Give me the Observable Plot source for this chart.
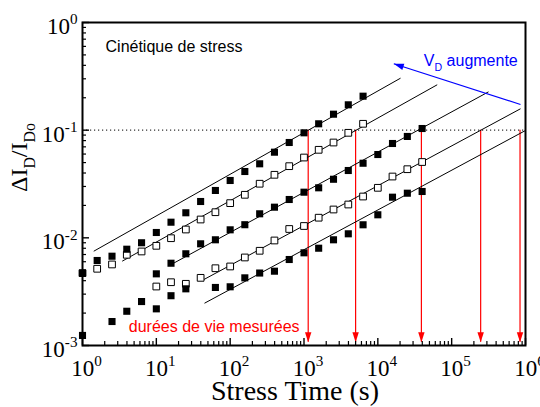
<!DOCTYPE html>
<html><head><meta charset="utf-8">
<script src="https://cdn.jsdelivr.net/npm/d3@7"></script>
<script src="https://cdn.jsdelivr.net/npm/@observablehq/plot@0.6"></script>
<style>body{margin:0;background:#fff} svg{display:block}</style>
</head><body><div id="chart"></div>
<script>
// ---- data (log-log) ----
const timeAB = [1, 1.58, 2.51, 3.98, 6.31, 10, 15.8, 25.1, 39.8, 63.1, 100, 158, 251, 398, 631, 1000, 1580, 2510, 3980, 6310];
const seriesA = [0.00470, 0.00616, 0.00675, 0.00784, 0.00900, 0.01121, 0.01397, 0.01709, 0.02175, 0.02753, 0.03409, 0.04131, 0.04872, 0.06244, 0.07683, 0.0945, 0.1146, 0.1407, 0.1720, 0.2068];
const seriesB = [0.00470, 0.00516, 0.00566, 0.00696, 0.00747, 0.00843, 0.00992, 0.01195, 0.0148, 0.0173, 0.0210, 0.0251, 0.0318, 0.0385, 0.0463, 0.0557, 0.0657, 0.0768, 0.0945, 0.1146];
const timeCD = [10, 15.8, 25.1, 39.8, 63.1, 100, 158, 251, 398, 631, 1000, 1580, 2510, 3980, 6310, 10000, 15800, 25100, 39800];
const seriesC = [0.00463, 0.00581, 0.00711, 0.00880, 0.00959, 0.01187, 0.01324, 0.01672, 0.01926, 0.0227, 0.02654, 0.02915, 0.0350, 0.0422, 0.0493, 0.0594, 0.0752, 0.0874, 0.1036];
const seriesD = [0.00353, 0.00387, 0.00374, 0.00425, 0.00522, 0.00542, 0.00657, 0.00758, 0.00945, 0.01208, 0.01288, 0.01538, 0.01833, 0.0204, 0.0242, 0.02915, 0.0371, 0.0434, 0.0506];
const timeE = [1, 2.51, 3.98, 6.31, 10, 15.8, 25.1, 63.1, 100, 158, 251, 398, 631, 1000, 1580, 2510, 3980, 6310, 10000, 15800, 25100, 39800];
const seriesE = [0.00124, 0.00167, 0.00208, 0.00256, 0.00219, 0.00290, 0.00336, 0.00346, 0.00351, 0.00425, 0.00471, 0.00490, 0.00629, 0.00726, 0.00801, 0.00959, 0.0109, 0.01322, 0.01637, 0.02385, 0.02597, 0.02694];

// power-law fits (start / end of each line)
const fitStartT = [1.42, 3.45, 17.35, 41.8, 44.9];
const fitStartV = [0.00751, 0.00607, 0.00584, 0.00402, 0.00247];
const fitEndT = [20300, 63700, 315500, 855800, 1000000];
const fitEndV = [0.304, 0.264, 0.227, 0.158, 0.0993];

// failure criterion and measured lifetimes
const criterion = 0.1;
const lifetimes = [1140, 5000, 38900, 247000, 843000];
const arrowBottom = 0.00107;

// "V_D augmente" arrow (tail -> tip)
const vdTail = [855800, 0.1732];
const vdTip = [16460, 0.4135];

// labels and ticks
const xMajor = [1, 10, 100, 1e3, 1e4, 1e5, 1e6];
const yMajor = [1e-3, 1e-2, 1e-1, 1];
const xMinor = [0,1,2,3,4,5].flatMap(k => [2,3,4,5,6,7,8,9].map(m => m * 10 ** k));
const yMinor = [-3,-2,-1].flatMap(k => [2,3,4,5,6,7,8,9].map(m => +(m * 10 ** k).toPrecision(3)));
const xTitle = "Stress Time (s)";
const yTitle = "ΔI_{D}/I_{Do}";
const noteKinetics = {t: 2.05, v: 0.591, text: "Cinétique de stress"};
const noteLife = {t: 4.24, v: 0.00148, text: "durées de vie mesurées"};
const noteVd = {t: 41950, v: 0.4446, text: "V_{D} augmente"};

// ---- build tables ----
const filled = [
  ...timeAB.map((t, i) => ({t, v: seriesA[i]})),
  ...timeCD.map((t, i) => ({t, v: seriesC[i]})),
  ...timeE.map((t, i) => ({t, v: seriesE[i]}))
];
const open = [
  ...timeAB.map((t, i) => ({t, v: seriesB[i]})),
  ...timeCD.map((t, i) => ({t, v: seriesD[i]}))
];
const fits = fitStartT.map((t, i) => ({t1: t, v1: fitStartV[i], t2: fitEndT[i], v2: fitEndV[i]}));

const triDown = {draw(ctx) { ctx.moveTo(0, 0); ctx.lineTo(-3.2, -10); ctx.lineTo(3.2, -10); ctx.closePath(); }};
const sans = "Liberation Sans, Arial, sans-serif";
const serif = "Liberation Serif, Times New Roman, serif";
const expFmt = d => `10^{${Math.round(Math.log10(d))}}`;

const chart = Plot.plot({
  width: 540, height: 407,
  marginLeft: 82, marginRight: 15, marginTop: 22, marginBottom: 62,
  x: {type: "log", domain: [1, 1e6], label: null},
  y: {type: "log", domain: [1e-3, 1], label: null},
  style: {fontFamily: serif, fontSize: "23px", background: "white", overflow: "visible"},
  marks: [
    Plot.ruleY([criterion], {stroke: "#333", strokeWidth: 1.2, strokeDasharray: "1.2,2.8"}),
    Plot.ruleX(lifetimes, {x: d => d, y1: criterion, y2: arrowBottom, stroke: "#ff0000", strokeWidth: 1.2}),
    Plot.dot(lifetimes, {x: d => d, y: () => arrowBottom, symbol: triDown, r: 4, fill: "#ff0000", stroke: null}),
    Plot.link(fits, {x1: "t1", y1: "v1", x2: "t2", y2: "v2", stroke: "black", strokeWidth: 1}),
    Plot.dot(open, {x: "t", y: "v", symbol: "square", r: 3.8, fill: "white", stroke: "black", strokeWidth: 1}),
    Plot.dot(filled, {x: "t", y: "v", symbol: "square", r: 4, fill: "black", stroke: null}),
    Plot.frame({stroke: "black", strokeWidth: 2}),
    Plot.axisX({ticks: xMajor, tickSize: -7, tickFormat: () => "", strokeWidth: 1.4, label: null}),
    Plot.axisX({ticks: xMinor, tickSize: -4, tickFormat: () => "", strokeWidth: 1.2, label: null}),
    Plot.axisY({ticks: yMajor, tickSize: -7, tickFormat: () => "", strokeWidth: 1.4, label: null}),
    Plot.axisY({ticks: yMinor, tickSize: -4, tickFormat: () => "", strokeWidth: 1.2, label: null}),
    Plot.axisX({ticks: xMajor, tickSize: 0, tickPadding: 14, tickFormat: expFmt, fontSize: 23, dx: 4, label: null}),
    Plot.axisY({ticks: yMajor, tickSize: 0, tickPadding: 5, tickFormat: expFmt, fontSize: 23, dy: 4, label: null}),
    Plot.text([xTitle], {frameAnchor: "bottom", text: d => d, dx: -9, dy: 54, fontSize: 28, fontFamily: serif}),
    Plot.text([yTitle], {frameAnchor: "left", text: d => d, rotate: -90, dx: -63, dy: 8, fontSize: 24, fontFamily: serif}),
    Plot.text([noteKinetics], {x: "t", y: "v", text: "text", textAnchor: "start", fontSize: 16, fontFamily: sans, fill: "black"}),
    Plot.text([noteLife], {x: "t", y: "v", text: "text", textAnchor: "start", fontSize: 16, fontFamily: sans, fill: "#ff0000"}),
    Plot.text([noteVd], {x: "t", y: "v", text: "text", textAnchor: "start", fontSize: 16, fontFamily: sans, fill: "#0000ff"}),
    Plot.link([{a: vdTail, b: vdTip}], {x1: d => d.a[0], y1: d => d.a[1], x2: d => d.b[0], y2: d => d.b[1], stroke: "#0000ff", strokeWidth: 1.2}),
    Plot.dot([vdTip], {x: d => d[0], y: d => d[1], symbol: triDown, r: 4, rotate: 108, fill: "#0000ff", stroke: null})
  ]
});
document.getElementById("chart").appendChild(chart);

// rich text: ^{...} superscript, _{...} subscript
const NS = "http://www.w3.org/2000/svg";
const re = /([\^_])\{([^}]*)\}/g;
chart.querySelectorAll("text").forEach(t => {
  const s = t.textContent;
  if (!/[\^_]\{/.test(s)) return;
  const base = parseFloat(getComputedStyle(t).fontSize) || 16;
  const parts = [];
  let last = 0;
  s.replace(re, (m, kind, inner, idx) => {
    if (idx > last) parts.push([0, s.slice(last, idx)]);
    parts.push([kind === "^" ? 1 : -1, inner]);
    last = idx + m.length;
    return m;
  });
  if (last < s.length) parts.push([0, s.slice(last)]);
  t.textContent = "";
  let off = 0;
  for (const [k, str] of parts) {
    const ts = document.createElementNS(NS, "tspan");
    const target = k === 1 ? -0.42 * base : k === -1 ? 0.32 * base : 0;
    ts.setAttribute("dy", (target - off).toFixed(2));
    off = target;
    if (k) ts.setAttribute("font-size", (0.66 * base).toFixed(1));
    ts.textContent = str;
    t.appendChild(ts);
  }
});
</script>
</body></html>
